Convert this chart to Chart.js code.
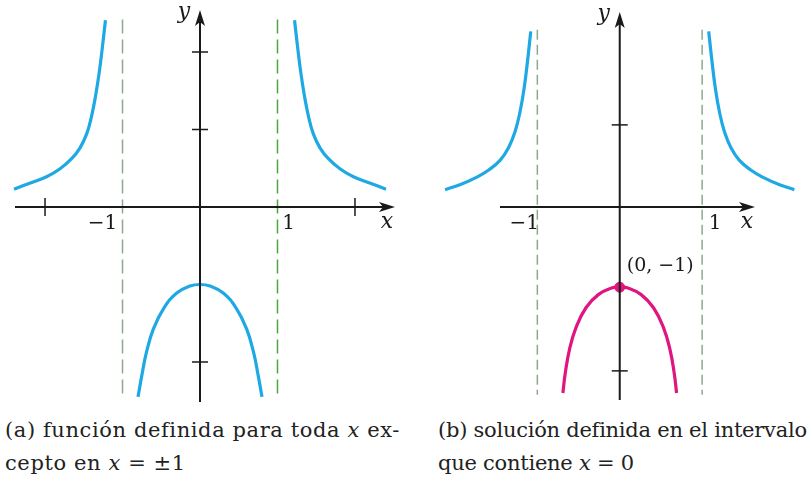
<!DOCTYPE html>
<html>
<head>
<meta charset="utf-8">
<script src="https://cdn.jsdelivr.net/npm/chart.js@4.4.1/dist/chart.umd.min.js"></script>
<style>
  body { margin: 0; background: #fff; }
  #wrap { position: relative; width: 807px; height: 481px; overflow: hidden; }
  canvas { position: absolute; top: 0; }
  .cap { position: absolute; font-family: "DejaVu Serif"; font-size: 21px; line-height: 33px; color: #222; white-space: nowrap; }
</style>
</head>
<body>
<div id="wrap">
  <canvas id="chartA" width="410" height="405" style="left:0"></canvas>
  <canvas id="chartB" width="392" height="405" style="left:415px"></canvas>
  <div class="cap" style="left:5px; top:414px; letter-spacing:0.6px">(a) función definida para toda <i>x</i> ex-<br>cepto en <i>x</i> = ±1</div>
  <div class="cap" style="left:438px; top:414px; letter-spacing:-0.25px">(b) solución definida en el intervalo<br>que contiene <i>x</i> = 0</div>
</div>
<script>
// ---------------- data ----------------
// panel (a): function defined for all x except x = ±1
var aLeftX  = [-2.40, -2.19, -1.98, -1.81, -1.66, -1.55, -1.46, -1.40, -1.35, -1.30, -1.26, -1.22];
var aLeftY  = [0.23, 0.31, 0.39, 0.49, 0.62, 0.76, 0.95, 1.17, 1.42, 1.74, 2.06, 2.41];
var aRightX = [1.22, 1.26, 1.30, 1.35, 1.40, 1.46, 1.55, 1.66, 1.81, 1.98, 2.19, 2.40];
var aRightY = [2.41, 2.06, 1.74, 1.42, 1.17, 0.95, 0.76, 0.62, 0.49, 0.39, 0.31, 0.23];
var aMidX   = [-0.80, -0.75, -0.69, -0.60, -0.47, -0.30, -0.13, 0, 0.13, 0.30, 0.47, 0.60, 0.69, 0.75, 0.80];
var aMidY   = [-2.45, -2.17, -1.87, -1.57, -1.31, -1.11, -1.02, -1.0, -1.02, -1.11, -1.31, -1.57, -1.87, -2.17, -2.45];
var aXTicks = [-2, 2];
var aYTicks = [2, 1, -2];

// panel (b): solution defined on the interval containing x = 0
var bLeftX  = [-2.12, -1.94, -1.74, -1.59, -1.45, -1.35, -1.27, -1.21, -1.16, -1.12, -1.08];
var bLeftY  = [0.21, 0.27, 0.36, 0.45, 0.57, 0.72, 0.92, 1.16, 1.45, 1.77, 2.14];
var bRightX = [1.08, 1.12, 1.16, 1.21, 1.27, 1.35, 1.45, 1.59, 1.74, 1.94, 2.12];
var bRightY = [2.14, 1.77, 1.45, 1.16, 0.92, 0.72, 0.57, 0.45, 0.36, 0.27, 0.21];
var bMidX   = [-0.69, -0.66, -0.61, -0.53, -0.41, -0.26, -0.10, 0, 0.10, 0.26, 0.41, 0.53, 0.61, 0.66, 0.69];
var bMidY   = [-2.27, -2.02, -1.74, -1.47, -1.23, -1.07, -0.99, -0.98, -0.99, -1.07, -1.23, -1.47, -1.74, -2.02, -2.27];
var bXTicks = [];
var bYTicks = [1, -2];
var bPoint  = [0, -0.98];

var asymptotes = [-1, 1];
var xLabels = ['\u22121', '1'];

function pts(xs, ys) {
  return xs.map(function(x, i) { return { x: x, y: ys[i] }; });
}

function curve(xs, ys, color) {
  return {
    data: pts(xs, ys), showLine: true, borderColor: color, borderWidth: 3.2,
    pointRadius: 0, tension: 0.45, fill: false, borderCapStyle: 'butt'
  };
}

function dashed(x, y0, y1, color, dash) {
  return {
    data: [{ x: x, y: y0 }, { x: x, y: y1 }], showLine: true, borderColor: color,
    borderWidth: 1.5, borderDash: dash, pointRadius: 0, fill: false
  };
}

// axes with arrows, ticks and labels
function axesPlugin(opt) {
  return {
    id: 'axes',
    afterDatasetsDraw: function(chart) {
      var c = chart.ctx, xs = chart.scales.x, ys = chart.scales.y;
      var x0 = xs.getPixelForValue(0), y0 = ys.getPixelForValue(0);
      c.save();
      c.strokeStyle = '#1a1a1a'; c.fillStyle = '#1a1a1a'; c.lineWidth = 2;
      // x axis
      c.beginPath(); c.moveTo(opt.xStart, y0); c.lineTo(opt.xEnd - 6, y0); c.stroke();
      c.beginPath(); c.moveTo(opt.xEnd, y0); c.lineTo(opt.xEnd - 16, y0 - 5); c.lineTo(opt.xEnd - 12, y0); c.lineTo(opt.xEnd - 16, y0 + 5); c.closePath(); c.fill();
      // y axis
      c.beginPath(); c.moveTo(x0, opt.yEnd); c.lineTo(x0, opt.yStart + 6); c.stroke();
      c.beginPath(); c.moveTo(x0, opt.yStart); c.lineTo(x0 - 5, opt.yStart + 16); c.lineTo(x0, opt.yStart + 12); c.lineTo(x0 + 5, opt.yStart + 16); c.closePath(); c.fill();
      // ticks
      c.lineWidth = 1.5;
      opt.xTicks.forEach(function(v) {
        var p = xs.getPixelForValue(v);
        c.beginPath(); c.moveTo(p, y0 - 9); c.lineTo(p, y0 + 9); c.stroke();
      });
      opt.yTicks.forEach(function(v) {
        var p = ys.getPixelForValue(v);
        c.beginPath(); c.moveTo(x0 - 8, p); c.lineTo(x0 + 8, p); c.stroke();
      });
      // labels
      c.font = '20px "DejaVu Serif"';
      c.textAlign = 'center'; c.textBaseline = 'middle';
      c.fillText(xLabels[0], xs.getPixelForValue(asymptotes[0]) + opt.lblOff[0], y0 + 17);
      c.fillText(xLabels[1], xs.getPixelForValue(asymptotes[1]) + opt.lblOff[1], y0 + 17);
      c.font = 'italic 22px "DejaVu Serif"';
      c.fillText('x', opt.xEnd - 8, y0 + 15);
      c.fillText('y', x0 - 16, opt.yStart + 2);
      if (opt.pointLabel) {
        c.font = '19px "DejaVu Serif"';
        c.textAlign = 'left';
        c.fillText(opt.pointLabel, x0 + 7, ys.getPixelForValue(bPoint[1]) - 21);
      }
      c.restore();
    }
  };
}

function makeChart(id, datasets, xr, yr, opt) {
  return new Chart(document.getElementById(id), {
    type: 'scatter',
    data: { datasets: datasets },
    options: {
      responsive: false, animation: false,
      layout: { padding: 0 },
      plugins: { legend: { display: false }, tooltip: { enabled: false } },
      scales: {
        x: { type: 'linear', display: false, min: xr[0], max: xr[1] },
        y: { type: 'linear', display: false, min: yr[0], max: yr[1] }
      }
    },
    plugins: [axesPlugin(opt)]
  });
}

var blue = '#1ea9e4', pink = '#e0157f';

makeChart('chartA', [
  dashed(asymptotes[0], 2.42, -2.45, '#8ea88e', [14, 6]),
  dashed(asymptotes[1], 2.42, -2.45, '#4aa83e', [14, 6]),
  curve(aLeftX, aLeftY, blue),
  curve(aRightX, aRightY, blue),
  curve(aMidX, aMidY, blue)
], [-2.581, 2.710], [-2.555, 2.671],
  { xStart: 15, xEnd: 395, yStart: 10, yEnd: 402, xTicks: aXTicks, yTicks: aYTicks, lblOff: [-20, 11] });

makeChart('chartB', [
  dashed(asymptotes[0], 2.16, -2.29, '#8ea88e', [10, 5]),
  dashed(asymptotes[1], 2.16, -2.29, '#8ea88e', [10, 5]),
  curve(bLeftX, bLeftY, blue),
  curve(bRightX, bRightY, blue),
  curve(bMidX, bMidY, pink),
  { data: [{ x: bPoint[0], y: bPoint[1] }], pointRadius: 5, pointBackgroundColor: pink, pointBorderColor: pink }
], [-2.412, 2.2], [-2.343, 2.450],
  { xStart: 85, xEnd: 340, yStart: 12, yEnd: 400, xTicks: bXTicks, yTicks: bYTicks, lblOff: [-13, 13], pointLabel: '(0, \u22121)' });
</script>
</body>
</html>
